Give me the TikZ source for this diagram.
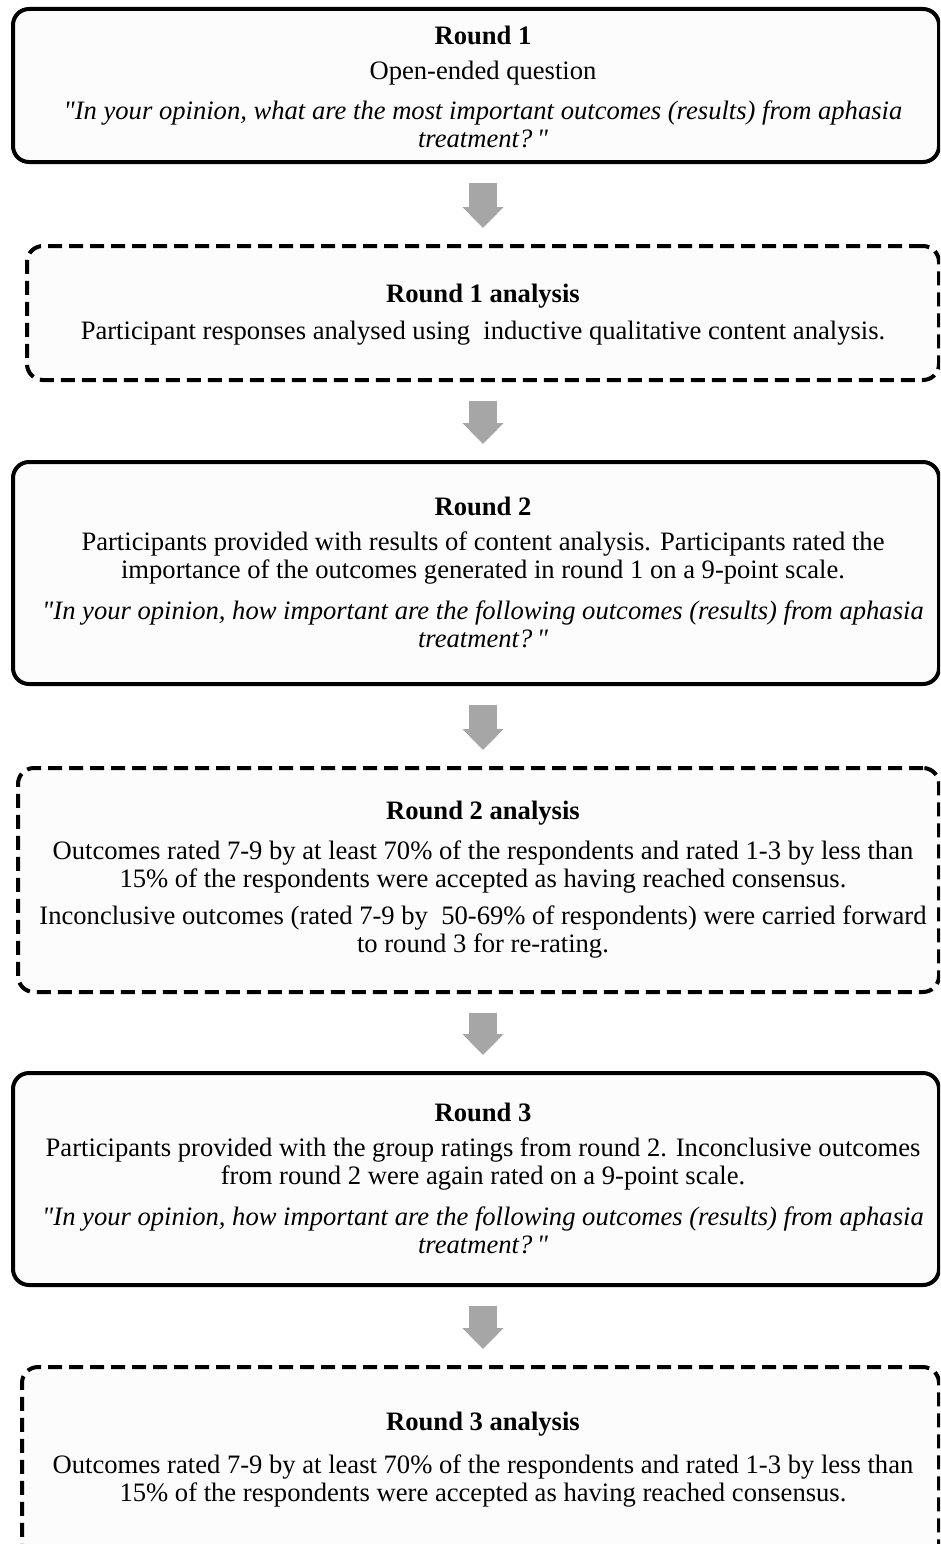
\documentclass[tikz,border=0pt]{standalone}
\usepackage{fontspec}
\setmainfont{Liberation Serif}[Ligatures=TeXOff]
\usetikzlibrary{arrows.meta}
\definecolor{arrowgray}{HTML}{A6A6A6}
\definecolor{boxfill}{HTML}{FCFCFC}
\begin{document}
\begin{tikzpicture}[x=1pt,y=-1pt,
  stagebox/.style={draw=black, line width=4pt, rounded corners=16pt, fill=boxfill,
    inner sep=0pt, outer sep=0pt},
  roundbox/.style={stagebox},
  analysisbox/.style={stagebox, dash pattern=on 14pt off 7pt},
  txt/.style={inner sep=0pt, align=center, font=\fontsize{26.6}{28}\selectfont},
  head/.style={txt, font=\fontsize{26.6}{28}\selectfont\bfseries},
  quote/.style={txt, font=\fontsize{26.6}{28}\selectfont\itshape},
  flow/.style={draw=arrowgray, line width=28pt,
    -{Triangle[width=40pt,length=21pt,fill=arrowgray]},
    shorten <=21pt, shorten >=18pt}
]
\useasboundingbox (0,0) rectangle (940,1544);
\clip (0,0) rectangle (940,1544);
\coordinate (axis) at (483,0);

% stage boxes
\node[roundbox, minimum width=926pt, minimum height=153pt] (r1) at (476,85.5) {};
\node[analysisbox, minimum width=912pt, minimum height=134pt] (a1) at (483,313) {};
\node[roundbox, minimum width=926pt, minimum height=222pt] (r2) at (476,573) {};
\node[analysisbox, minimum width=921pt, minimum height=224pt] (a2) at (478.5,880) {};
\node[roundbox, minimum width=926pt, minimum height=212pt] (r3) at (476,1179) {};
\node[analysisbox, minimum width=917pt, minimum height=213pt] (a3) at (480.5,1473.5) {};

% round 1
\node[head] (r1h) at (483,35) {Round 1};
\node[txt] (r1t) at (483,73) {Open-ended question};
\node[quote] (r1q) at (483,124) {"In your opinion, what are the most important outcomes (results) from aphasia\\treatment?\,"};

% round 1 analysis
\node[head] (a1h) at (483,296) {Round 1 analysis};
\node[txt] (a1t) at (483,333) {Participant responses analysed using\ \ inductive qualitative content analysis.};

% round 2
\node[head] (r2h) at (483,506) {Round 2};
\node[txt] (r2t) at (483,558) {Participants provided with results of content analysis. Participants rated the\\importance of the outcomes generated in round 1 on a 9-point scale.};
\node[quote] (r2q) at (483,624.5) {"In your opinion, how important are the following outcomes (results) from aphasia\\treatment?\,"};

% round 2 analysis
\node[head] (a2h) at (483,813) {Round 2 analysis};
\node[txt] (a2t) at (483,866.5) {Outcomes rated 7-9 by at least 70\% of the respondents and rated 1-3 by less than\\15\% of the respondents were accepted as having reached consensus.};
\node[txt] (a2u) at (483,932) {Inconclusive outcomes (rated 7-9 by\ \ 50-69\% of respondents) were carried forward\\to round 3 for re-rating.};

% round 3
\node[head] (r3h) at (483,1112) {Round 3};
\node[txt] (r3t) at (483,1164) {Participants provided with the group ratings from round 2. Inconclusive outcomes\\from round 2 were again rated on a 9-point scale.};
\node[quote] (r3q) at (483,1230) {"In your opinion, how important are the following outcomes (results) from aphasia\\treatment?\,"};

% round 3 analysis
\node[head] (a3h) at (483,1424) {Round 3 analysis};
\node[txt] (a3t) at (483,1481) {Outcomes rated 7-9 by at least 70\% of the respondents and rated 1-3 by less than\\15\% of the respondents were accepted as having reached consensus.};

% flow arrows
\draw[flow] (r1.south -| axis) -- (a1.north -| axis);
\draw[flow] (a1.south -| axis) -- (r2.north -| axis);
\draw[flow] (r2.south -| axis) -- (a2.north -| axis);
\draw[flow] (a2.south -| axis) -- (r3.north -| axis);
\draw[flow] (r3.south -| axis) -- (a3.north -| axis);
\end{tikzpicture}
\end{document}
